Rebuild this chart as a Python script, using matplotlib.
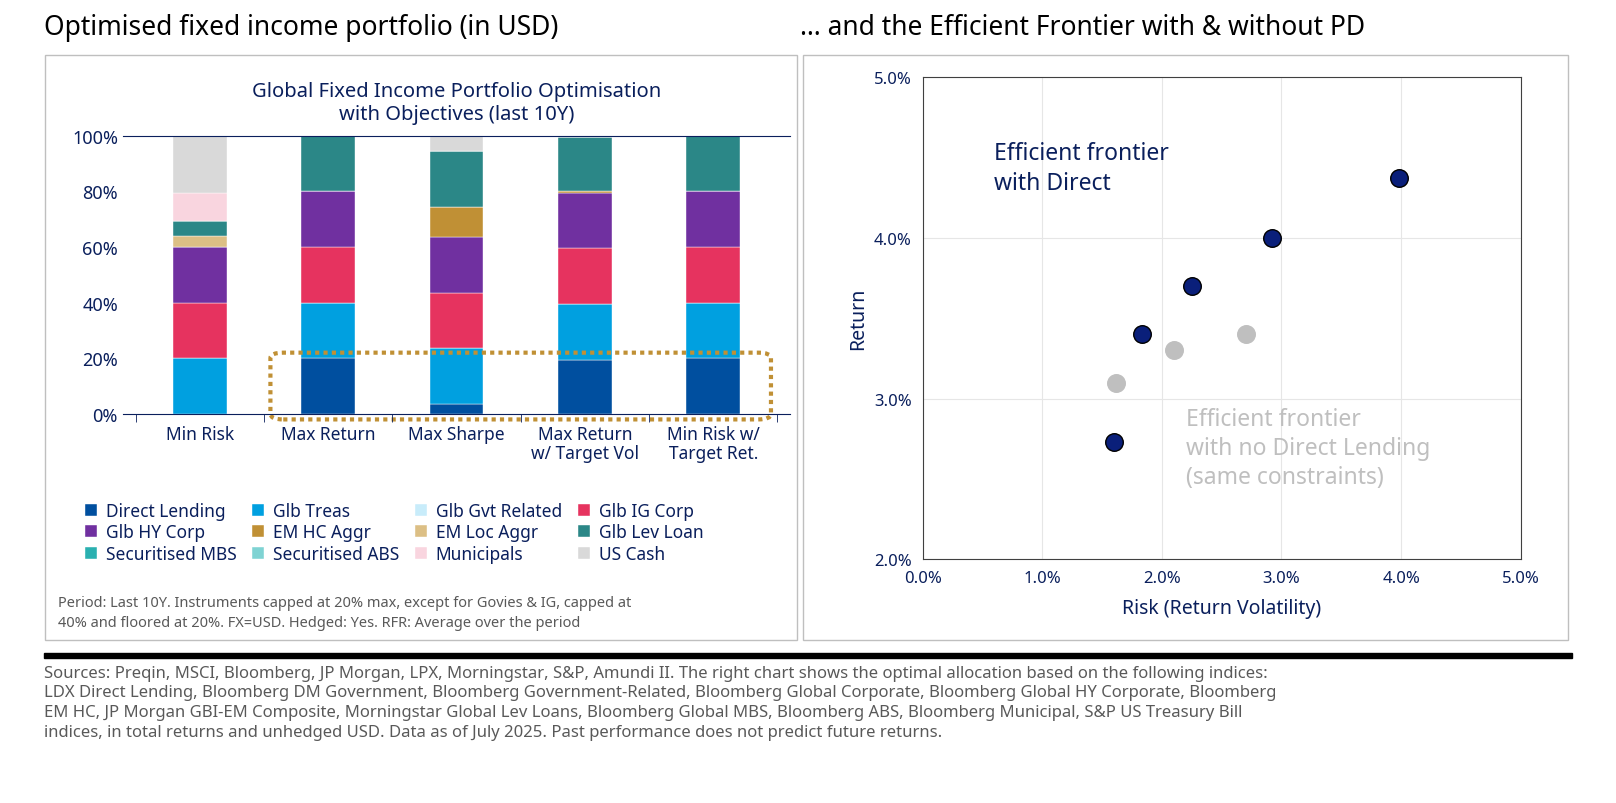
import matplotlib.pyplot as plt
import numpy as np
from matplotlib.patches import FancyBboxPatch, Rectangle

plt.rcParams["font.family"] = ["Noto Sans", "DejaVu Sans"]
NAVY = "#0a1f5c"

# --- ALLOCATIONS (in %) ---
CATEGORIES = ["Min Risk", "Max Return", "Max Sharpe", "Max Return\nw/ Target Vol", "Min Risk w/\nTarget Ret."]
ASSETS = {
    "Direct Lending": ("#004f9f", [0, 20, 3.5, 19.5, 20]),
    "Glb Treas": ("#00a0e0", [20, 20, 20, 20, 20]),
    "Glb Gvt Related": ("#c8ecfa", [0, 0, 0, 0, 0]),
    "Glb IG Corp": ("#e6335f", [20, 20, 20, 20, 20]),
    "Glb HY Corp": ("#7030a0", [20, 20, 20, 20, 20]),
    "EM HC Aggr": ("#c09035", [0, 0, 11, 0.5, 0]),
    "EM Loc Aggr": ("#dcbf85", [4, 0, 0, 0, 0]),
    "Glb Lev Loan": ("#2b8787", [5.5, 20, 20, 19.5, 20]),
    "Securitised MBS": ("#2ab0b0", [0, 0, 0, 0, 0]),
    "Securitised ABS": ("#7fd3d3", [0, 0, 0, 0, 0]),
    "Municipals": ("#f9d5df", [10, 0, 0, 0, 0]),
    "US Cash": ("#d9d9d9", [20.5, 0, 5.5, 0.5, 0]),
}

# --- FRONTIER POINTS (risk %, return %) ---
WITH_DL = ([1.60, 1.83, 2.25, 2.92, 3.98], [2.73, 3.40, 3.70, 4.00, 4.37])
NO_DL = ([1.62, 2.10, 2.70], [3.10, 3.30, 3.40])

fig = plt.figure(figsize=(16.16, 8.04), dpi=100)
fig.text(0.027, 0.965, "Optimised fixed income portfolio (in USD)", fontsize=19, fontweight="bold", va="center")
fig.text(0.495, 0.965, "\u2026 and the Efficient Frontier with & without PD", fontsize=19, fontweight="bold", va="center")

# panel frames
fig.patches.append(Rectangle((0.028, 0.203), 0.465, 0.727, transform=fig.transFigure, fill=False, ec="#bfbfbf", lw=1))
fig.patches.append(Rectangle((0.497, 0.203), 0.473, 0.727, transform=fig.transFigure, fill=False, ec="#bfbfbf", lw=1))

# --- Bar chart ---
ax = fig.add_axes([0.076, 0.484, 0.413, 0.346])
x = np.arange(len(CATEGORIES))
bottom = np.zeros(len(CATEGORIES))
for name, (color, vals) in ASSETS.items():
    vals = np.array(vals)
    ax.bar(x, vals, 0.42, bottom=bottom, color=color, label=name, edgecolor="white", linewidth=0.3)
    bottom += vals
ax.set_ylim(0, 100)
ax.set_xlim(-0.6, 4.6)
ax.set_yticks(range(0, 101, 20))
ax.set_yticklabels([f"{v}%" for v in range(0, 101, 20)], fontsize=13, fontweight="bold", color=NAVY)
ax.set_xticks(x)
ax.set_xticklabels(CATEGORIES, fontsize=12.5, fontweight="bold", color=NAVY, linespacing=1.1)
ax.set_xticks(np.arange(-0.5, 4.6, 1), minor=True)
ax.tick_params(axis="x", which="major", length=0, pad=8)
ax.tick_params(axis="x", which="minor", length=6, color=NAVY)
ax.tick_params(axis="y", length=0)
for s in ["top", "bottom"]:
    ax.spines[s].set_color(NAVY)
ax.spines["left"].set_visible(False)
ax.spines["right"].set_visible(False)
ax.set_title("Global Fixed Income Portfolio Optimisation\nwith Objectives (last 10Y)", fontsize=14.5, fontweight="bold", color=NAVY, pad=12)
box = FancyBboxPatch((0.55, -2), 3.9, 24, boxstyle="round,pad=0,rounding_size=0.1",
                     fill=False, ec="#c09035", lw=3, ls=(0, (1, 1)), clip_on=False, mutation_aspect=20)
ax.add_patch(box)
# legend filled row by row
handles, labels = ax.get_legend_handles_labels()
order = [i + 4 * r for i in range(4) for r in range(3)]
ax.legend([handles[i] for i in order], [labels[i] for i in order], loc="upper left", bbox_to_anchor=(-0.08, -0.26),
          ncol=4, frameon=False, handlelength=0.7, handleheight=0.7, handletextpad=0.5, columnspacing=0.9,
          labelspacing=0.2, prop={"weight": "bold", "size": 12.5}, labelcolor=NAVY)
fig.text(0.036, 0.237, "Period: Last 10Y. Instruments capped at 20% max, except for Govies & IG, capped at\n"
         "40% and floored at 20%. FX=USD. Hedged: Yes. RFR: Average over the period",
         fontsize=10.5, fontweight="bold", color="#595959", va="center", linespacing=1.5)

# --- Efficient frontier ---
ax2 = fig.add_axes([0.571, 0.303, 0.37, 0.6])
ax2.scatter(*NO_DL, s=160, color="#bfbfbf", zorder=3)
ax2.scatter(*WITH_DL, s=160, color="#0a1f7a", edgecolor="black", lw=1, zorder=3)
ax2.set_xlim(0, 5)
ax2.set_ylim(2, 5)
ax2.set_xticks(np.arange(0, 5.1, 1))
ax2.set_yticks(np.arange(2, 5.1, 1))
ax2.set_xticklabels([f"{v:.1f}%" for v in np.arange(0, 5.1, 1)], fontsize=12, fontweight="bold", color=NAVY)
ax2.set_yticklabels([f"{v:.1f}%" for v in np.arange(2, 5.1, 1)], fontsize=12, fontweight="bold", color=NAVY)
ax2.grid(color="#e6e6e6", lw=0.8)
ax2.tick_params(length=0, pad=8)
for s in ax2.spines.values():
    s.set_color("#404040")
ax2.set_xlabel("Risk (Return Volatility)", fontsize=14, fontweight="bold", color=NAVY, labelpad=8)
ax2.set_ylabel("Return", fontsize=14, fontweight="bold", color=NAVY)
ax2.text(0.6, 4.6, "Efficient frontier\nwith Direct", fontsize=16.5, fontweight="bold", color=NAVY, va="top", linespacing=1.3)
ax2.text(2.2, 2.95, "Efficient frontier\nwith no Direct Lending\n(same constraints)", fontsize=16.5, fontweight="bold",
         color="#bfbfbf", va="top", linespacing=1.3)

# --- Sources ---
fig.patches.append(Rectangle((0.027, 0.180), 0.946, 0.007, transform=fig.transFigure, color="black"))
fig.text(0.027, 0.172, "Sources: Preqin, MSCI, Bloomberg, JP Morgan, LPX, Morningstar, S&P, Amundi II. The right chart shows the optimal allocation based on the following indices:\n"
         "LDX Direct Lending, Bloomberg DM Government, Bloomberg Government-Related, Bloomberg Global Corporate, Bloomberg Global HY Corporate, Bloomberg\n"
         "EM HC, JP Morgan GBI-EM Composite, Morningstar Global Lev Loans, Bloomberg Global MBS, Bloomberg ABS, Bloomberg Municipal, S&P US Treasury Bill\n"
         "indices, in total returns and unhedged USD. Data as of July 2025. Past performance does not predict future returns.",
         fontsize=12, color="#595959", va="top", linespacing=1.3)

plt.savefig("out.png", dpi=100)
plt.close()
